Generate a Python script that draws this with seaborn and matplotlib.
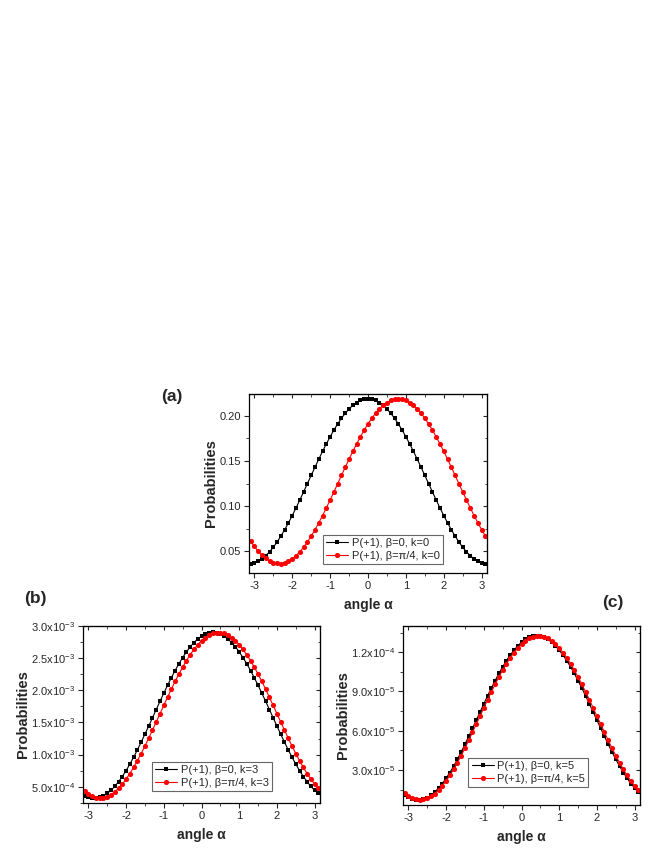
import numpy as np
import pandas as pd
import matplotlib
matplotlib.use("Agg")
import matplotlib.pyplot as plt
import seaborn as sns
from matplotlib.ticker import MultipleLocator, FuncFormatter

# ---------------- data ----------------
alpha = [-3.1, -3.0, -2.9, -2.8, -2.7, -2.6, -2.5, -2.4, -2.3, -2.2, -2.1,
         -2.0, -1.9, -1.8, -1.7, -1.6, -1.5, -1.4, -1.3, -1.2, -1.1,
         -1.0, -0.9, -0.8, -0.7, -0.6, -0.5, -0.4, -0.3, -0.2, -0.1,
         0.0, 0.1, 0.2, 0.3, 0.4, 0.5, 0.6, 0.7, 0.8, 0.9,
         1.0, 1.1, 1.2, 1.3, 1.4, 1.5, 1.6, 1.7, 1.8, 1.9,
         2.0, 2.1, 2.2, 2.3, 2.4, 2.5, 2.6, 2.7, 2.8, 2.9, 3.0, 3.1]

# panel (a), k=0
a_beta0 = [0.0361, 0.0369, 0.0387, 0.0413, 0.0448, 0.0491, 0.0542, 0.0600, 0.0665, 0.0737, 0.0813,
           0.0894, 0.0979, 0.1067, 0.1157, 0.1248, 0.1340, 0.1431, 0.1520, 0.1607, 0.1690,
           0.1769, 0.1844, 0.1912, 0.1975, 0.2030, 0.2078, 0.2118, 0.2149, 0.2172, 0.2185,
           0.2190, 0.2185, 0.2172, 0.2149, 0.2118, 0.2078, 0.2030, 0.1975, 0.1912, 0.1844,
           0.1769, 0.1690, 0.1607, 0.1520, 0.1431, 0.1340, 0.1248, 0.1157, 0.1067, 0.0979,
           0.0894, 0.0813, 0.0737, 0.0665, 0.0600, 0.0542, 0.0491, 0.0448, 0.0413, 0.0387, 0.0369, 0.0361]
a_betapi4 = [0.0611, 0.0551, 0.0499, 0.0454, 0.0418, 0.0390, 0.0371, 0.0362, 0.0361, 0.0369, 0.0387,
             0.0413, 0.0448, 0.0491, 0.0542, 0.0600, 0.0665, 0.0737, 0.0813, 0.0894, 0.0979,
             0.1067, 0.1157, 0.1248, 0.1340, 0.1431, 0.1520, 0.1607, 0.1690, 0.1769, 0.1844,
             0.1912, 0.1975, 0.2030, 0.2078, 0.2118, 0.2149, 0.2172, 0.2185, 0.2190, 0.2185,
             0.2172, 0.2149, 0.2118, 0.2078, 0.2030, 0.1975, 0.1912, 0.1844, 0.1769, 0.1690,
             0.1607, 0.1520, 0.1431, 0.1340, 0.1248, 0.1157, 0.1067, 0.0979, 0.0894, 0.0813, 0.0737, 0.0665]

# panel (b), k=3, in units of 1e-3
b_beta0 = [0.363, 0.336, 0.322, 0.321, 0.333, 0.357, 0.395, 0.444, 0.505, 0.577, 0.659,
           0.750, 0.851, 0.959, 1.073, 1.193, 1.317, 1.444, 1.572, 1.701, 1.829,
           1.955, 2.078, 2.195, 2.307, 2.412, 2.509, 2.597, 2.675, 2.742, 2.798,
           2.842, 2.874, 2.894, 2.900, 2.894, 2.874, 2.842, 2.798, 2.742, 2.675,
           2.597, 2.509, 2.412, 2.307, 2.195, 2.078, 1.955, 1.829, 1.701, 1.572,
           1.444, 1.317, 1.193, 1.073, 0.959, 0.851, 0.750, 0.659, 0.577, 0.505, 0.444, 0.395]
b_betapi4 = [0.428, 0.383, 0.350, 0.329, 0.322, 0.327, 0.345, 0.376, 0.420, 0.475, 0.541,
             0.618, 0.705, 0.801, 0.905, 1.016, 1.133, 1.255, 1.381, 1.508, 1.637,
             1.765, 1.892, 2.017, 2.137, 2.251, 2.360, 2.461, 2.553, 2.636, 2.709,
             2.770, 2.820, 2.858, 2.884, 2.897, 2.897, 2.884, 2.858, 2.820, 2.770,
             2.709, 2.636, 2.553, 2.461, 2.360, 2.251, 2.137, 2.017, 1.892, 1.765,
             1.637, 1.508, 1.381, 1.255, 1.133, 1.016, 0.905, 0.801, 0.705, 0.618, 0.541, 0.475]

# panel (c), k=5, in units of 1e-5
c_beta0 = [1.11, 0.92, 0.79, 0.72, 0.72, 0.77, 0.89, 1.07, 1.31, 1.61, 1.96,
           2.36, 2.80, 3.29, 3.81, 4.37, 4.95, 5.56, 6.17, 6.80, 7.42,
           8.05, 8.66, 9.25, 9.82, 10.37, 10.88, 11.35, 11.78, 12.15, 12.48,
           12.76, 12.97, 13.13, 13.22, 13.25, 13.22, 13.13, 12.97, 12.76, 12.48,
           12.15, 11.78, 11.35, 10.88, 10.37, 9.82, 9.25, 8.66, 8.05, 7.42,
           6.80, 6.17, 5.56, 4.95, 4.37, 3.81, 3.29, 2.80, 2.36, 1.96, 1.61, 1.31]
c_betapi4 = [1.24, 1.02, 0.86, 0.76, 0.72, 0.75, 0.83, 0.98, 1.19, 1.46, 1.79,
             2.16, 2.58, 3.05, 3.55, 4.09, 4.66, 5.26, 5.87, 6.49, 7.11,
             7.74, 8.36, 8.96, 9.54, 10.10, 10.63, 11.12, 11.57, 11.97, 12.32,
             12.62, 12.87, 13.05, 13.18, 13.24, 13.24, 13.18, 13.05, 12.87, 12.62,
             12.32, 11.97, 11.57, 11.12, 10.63, 10.10, 9.54, 8.96, 8.36, 7.74,
             7.11, 6.49, 5.87, 5.26, 4.66, 4.09, 3.55, 3.05, 2.58, 2.16, 1.79, 1.46]

labels_a = ["P(+1), β=0, k=0", "P(+1), β=π/4, k=0"]
labels_b = ["P(+1), β=0, k=3", "P(+1), β=π/4, k=3"]
labels_c = ["P(+1), β=0, k=5", "P(+1), β=π/4, k=5"]
xticks = [-3, -2, -1, 0, 1, 2, 3]

# ---------------- style ----------------
sns.set_style("ticks")
plt.rcParams["font.family"] = ["Liberation Sans", "DejaVu Sans"]
plt.rcParams["axes.unicode_minus"] = False
plt.rcParams["mathtext.fontset"] = "custom"
plt.rcParams["mathtext.rm"] = "Liberation Sans"
plt.rcParams["mathtext.it"] = "Liberation Sans:italic"
plt.rcParams["mathtext.bf"] = "Liberation Sans:bold"

fig = plt.figure(figsize=(6.64, 8.60), dpi=100)
W, H = 664, 860


def rect(l, r, t, b):
    return [l / W, (H - b) / H, (r - l) / W, (b - t) / H]


def sci(v, pos=None):
    if v <= 0:
        return ""
    e = int(np.floor(np.log10(v) + 1e-9))
    m = v / 10 ** e
    return f"{m:.1f}x10$^{{-{abs(e)}}}$" if e < 0 else f"{m:.1f}x10$^{{{e}}}$"


def draw(ax, y0, y1, scale, labels, ylim, major, minor, fmt, leg_anchor):
    df = pd.DataFrame({"alpha": alpha,
                       "y0": np.array(y0) * scale,
                       "y1": np.array(y1) * scale})
    sns.lineplot(data=df, x="alpha", y="y0", ax=ax, color="black", lw=0.8,
                 marker="s", markersize=3.1, markeredgewidth=0, label=labels[0])
    sns.lineplot(data=df, x="alpha", y="y1", ax=ax, color="red", lw=0.8,
                 marker="o", markersize=3.7, markeredgewidth=0, label=labels[1])
    ax.set_xlim(-np.pi, np.pi)
    ax.set_ylim(*ylim)
    ax.set_xticks(xticks)
    ax.xaxis.set_minor_locator(MultipleLocator(0.5))
    ax.yaxis.set_major_locator(MultipleLocator(major))
    ax.yaxis.set_minor_locator(MultipleLocator(minor))
    ax.yaxis.set_major_formatter(FuncFormatter(fmt))
    ax.tick_params(which="major", direction="out", length=3.5, width=0.8,
                   labelsize=8, pad=2)
    ax.tick_params(which="minor", direction="out", length=2, width=0.6)
    for s in ax.spines.values():
        s.set_linewidth(0.9)
        s.set_color("black")
    # inward ticks on top and right
    top = ax.secondary_xaxis("top")
    top.set_xticks(xticks)
    top.xaxis.set_minor_locator(MultipleLocator(0.5))
    top.tick_params(which="major", direction="in", length=3, width=0.8, labeltop=False)
    top.tick_params(which="minor", direction="in", length=1.8, width=0.6)
    right = ax.secondary_yaxis("right")
    right.yaxis.set_major_locator(MultipleLocator(major))
    right.yaxis.set_minor_locator(MultipleLocator(minor))
    right.tick_params(which="major", direction="in", length=3, width=0.8, labelright=False)
    right.tick_params(which="minor", direction="in", length=1.8, width=0.6)
    ax.set_xlabel("angle α", fontsize=10, fontweight="bold", labelpad=5)
    ax.set_ylabel("Probabilities", fontsize=10.5, fontweight="bold", labelpad=1)
    leg = ax.legend(loc="lower left", bbox_to_anchor=leg_anchor, borderaxespad=0,
                    fontsize=8, frameon=True, fancybox=False, edgecolor="#666666",
                    handlelength=2.0, handletextpad=0.3, borderpad=0.3,
                    labelspacing=0.25, framealpha=1)
    leg.get_frame().set_linewidth(0.8)


ax_a = fig.add_axes(rect(249, 487, 394, 573))
draw(ax_a, a_beta0, a_betapi4, 1.0, labels_a, (0.0256, 0.2244), 0.05, 0.025,
     lambda v, p: f"{v:.2f}", (0.31, 0.05))

ax_b = fig.add_axes(rect(83, 320, 626, 803))
draw(ax_b, b_beta0, b_betapi4, 1e-3, labels_b, (2.47e-4, 3.0e-3), 5e-4, 2.5e-4,
     sci, (0.29, 0.065))

ax_c = fig.add_axes(rect(403, 640, 626, 805))
draw(ax_c, c_beta0, c_betapi4, 1e-5, labels_c, (3.2e-6, 1.40e-4), 3e-5, 1.5e-5,
     sci, (0.275, 0.10))

fig.text(172 / W, 1 - 397 / H, "(a)", fontsize=12.5, fontweight="bold", ha="center", va="center")
fig.text(35 / W, 1 - 598 / H, "(b)", fontsize=12.5, fontweight="bold", ha="center", va="center")
fig.text(613 / W, 1 - 603 / H, "(c)", fontsize=12.5, fontweight="bold", ha="center", va="center")

fig.savefig("out.png", dpi=100)
